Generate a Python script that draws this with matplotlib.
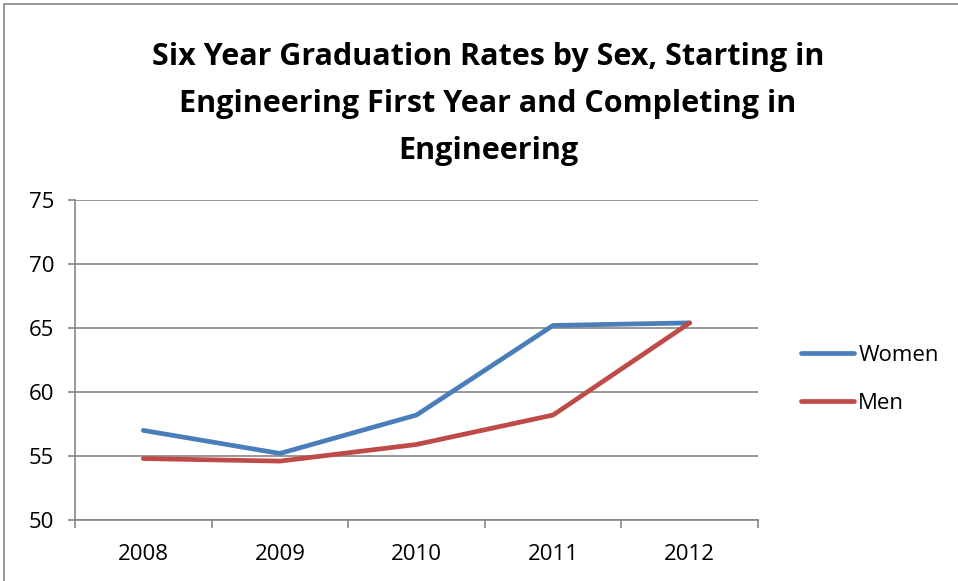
import matplotlib
matplotlib.use("Agg")
import matplotlib.pyplot as plt
from matplotlib.patches import Rectangle

years = ["2008", "2009", "2010", "2011", "2012"]
women = [57.0, 55.2, 58.2, 65.2, 65.4]
men = [54.8, 54.6, 55.9, 58.2, 65.4]
yticks = [50, 55, 60, 65, 70, 75]

plt.rcParams['font.family'] = ['Open Sans', 'DejaVu Sans']

fig = plt.figure(figsize=(9.58, 5.81), dpi=100)
ax = fig.add_axes([75/958, 1-520/581, (758-75)/958, (520-200)/581])

x = list(range(len(years)))
ax.plot(x, women, color="#4A7EBB", lw=3.4, solid_capstyle="round", solid_joinstyle="round", label="Women", zorder=3)
ax.plot(x, men, color="#BE4B48", lw=3.4, solid_capstyle="round", solid_joinstyle="round", label="Men", zorder=3)

ax.set_xlim(-0.5, len(years) - 0.5)
ax.set_ylim(50, 75)
ax.set_yticks(yticks)
ax.set_yticklabels([str(v) for v in yticks], fontsize=16)
ax.set_xticks([i + 0.5 for i in range(-1, len(years))])
ax.set_xticklabels([])
ax.set_xticks(x, minor=True)
ax.set_xticklabels(years, minor=True, fontsize=16)
ax.tick_params(axis='x', which='minor', length=0, pad=17)
ax.tick_params(axis='x', which='major', length=6, color="#868686", width=1.2, direction='out')
ax.tick_params(axis='y', length=5, color="#868686", width=1.2, direction='out', pad=10)
ax.grid(axis='y', color="#868686", lw=1.2)
ax.set_axisbelow(True)
for s in ['top', 'right']:
    ax.spines[s].set_visible(False)
for s in ['left', 'bottom']:
    ax.spines[s].set_color("#868686")
    ax.spines[s].set_linewidth(1.2)

leg = ax.legend(loc='center left', bbox_to_anchor=(1.033, 0.44), frameon=False,
                fontsize=16, handlelength=2.4, handletextpad=0.2, labelspacing=1.2)

fig.text(488/958, 1 - 104/581,
         "Six Year Graduation Rates by Sex, Starting in\nEngineering First Year and Completing in\nEngineering",
         ha='center', va='center', fontsize=22, fontweight='bold', linespacing=1.75)

fig.patches.append(Rectangle((4/958, -0.01), 1.0, 1 - 4/581 + 0.01, transform=fig.transFigure,
                             fill=False, edgecolor="#868686", lw=1.2))

fig.savefig("out.png", dpi=100)
